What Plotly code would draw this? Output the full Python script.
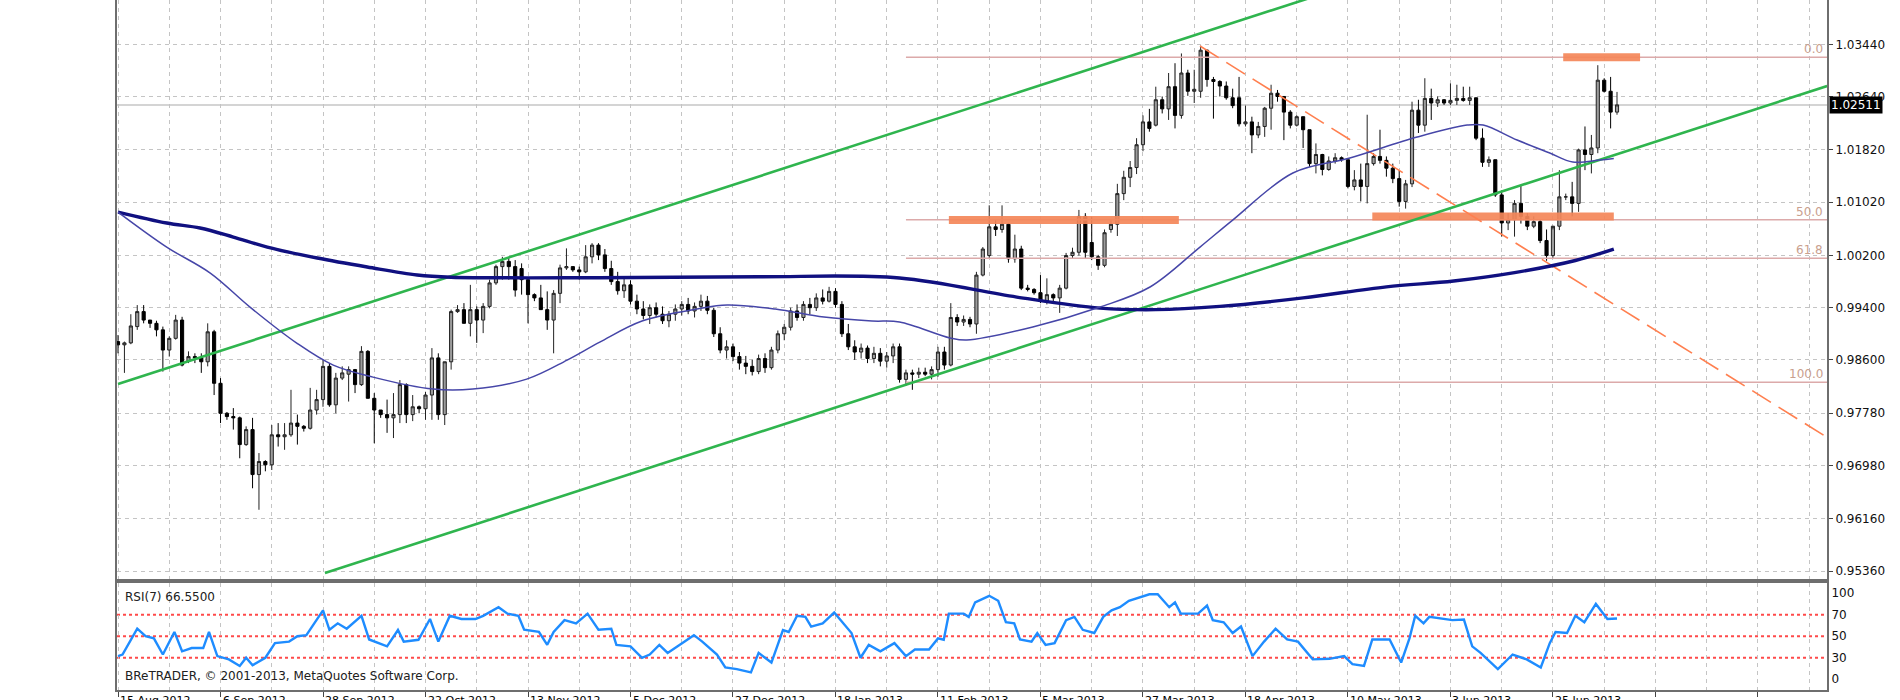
import plotly.graph_objects as go

# ---------------- data (prices in pips, /10000) ----------------
opens = [9888,9883,9886,9911,9934,9921,9916,9906,9875,9893,9921,9858,9865,9863,9857,9903,9824,9778,9773,9771,
         9730,9753,9684,9704,9699,9745,9742,9745,9763,9758,9755,9783,9799,9850,9791,9832,9838,9845,9822,9873,
         9801,9783,9776,9771,9776,9822,9776,9788,9785,9806,9863,9776,9857,9934,9937,9916,9937,9921,9942,9978,
         10003,10011,10003,10000,9983,9960,9955,9937,9921,9962,10001,10003,9998,9995,10018,10036,10021,10000,9980,9966,
         9975,9950,9938,9928,9940,9930,9920,9930,9938,9945,9935,9942,9950,9936,9900,9875,9880,9865,9855,9850,
         9842,9862,9848,9875,9900,9910,9935,9925,9945,9940,9955,9950,9965,9945,9900,9880,9872,9878,9862,9870,
         9858,9866,9880,9830,9840,9838,9841,9838,9845,9872,9852,9925,9918,9922,9915,9990,10020,10064,10060,10068,
         10015,10030,9970,9968,9963,9950,9960,9955,9970,10020,10025,10080,10040,10018,10005,10060,10068,10115,10140,10155,
         10190,10225,10220,10259,10245,10279,10235,10300,10272,10272,10335,10290,10287,10280,10262,10262,10222,10225,10205,10218,
         10246,10269,10264,10240,10220,10233,10213,10161,10175,10152,10165,10170,10167,10126,10136,10126,10161,10172,10166,10154,
         10138,10103,10130,10243,10220,10261,10254,10259,10254,10258,10261,10258,10262,10200,10163,10167,10113,10070,10075,10100,
         10080,10065,10072,10043,10020,10065,10110,10110,10100,10182,10175,10185,10289,10272,10240]
highs = [9898,9888,9930,9944,9944,9921,9920,9911,9896,9929,9926,9873,9870,9870,9916,9906,9832,9780,9786,9773,
         9758,9771,9717,9706,9760,9763,9763,9814,9776,9760,9817,9814,9860,9855,9840,9850,9850,9846,9881,9875,
         9809,9783,9799,9809,9829,9824,9806,9790,9811,9878,9870,9857,9937,9944,9947,9975,9942,9947,9983,10006,
         10018,10018,10013,10008,9983,9962,9975,9965,9967,10006,10031,10003,10003,10036,10039,10039,10030,10012,9995,9985,
         9982,9960,9950,9945,9948,9942,9935,9945,9950,9955,9948,9960,9958,9940,9910,9890,9885,9872,9866,9860,
         9868,9870,9880,9905,9915,9940,9945,9950,9955,9962,9968,9972,9970,9950,9915,9890,9885,9882,9880,9878,
         9872,9885,9885,9845,9845,9848,9848,9850,9880,9880,9947,9930,9928,9926,9995,10033,10097,10075,10097,10070,
         10052,10035,9975,9970,9990,9985,9962,9975,10024,10032,10090,10085,10079,10021,10060,10075,10130,10150,10165,10200,
         10235,10245,10279,10264,10300,10315,10330,10305,10305,10342,10336,10294,10289,10287,10276,10294,10250,10233,10225,10248,
         10282,10274,10264,10243,10235,10233,10213,10192,10176,10172,10177,10172,10167,10151,10161,10236,10177,10213,10172,10161,
         10151,10136,10256,10259,10292,10276,10264,10260,10284,10282,10279,10279,10262,10215,10172,10167,10120,10085,10105,10128,
         10085,10080,10075,10060,10060,10151,10115,10133,10184,10218,10205,10312,10292,10294,10271]
lows = [9870,9840,9884,9906,9916,9909,9896,9842,9865,9891,9850,9855,9855,9840,9850,9806,9763,9768,9753,9709,
        9728,9663,9630,9689,9691,9727,9722,9742,9730,9750,9753,9776,9788,9788,9778,9829,9796,9809,9820,9801,
        9732,9771,9748,9740,9763,9763,9766,9778,9768,9768,9768,9760,9845,9932,9916,9896,9886,9901,9939,9975,
        9983,9983,9957,9960,9916,9950,9937,9906,9870,9947,9998,9995,9983,9993,10008,10013,9995,9975,9960,9955,
        9945,9930,9922,9915,9925,9915,9910,9920,9928,9930,9925,9935,9930,9895,9870,9862,9858,9845,9838,9836,
        9838,9840,9845,9870,9890,9905,9920,9920,9930,9935,9945,9948,9940,9895,9875,9860,9862,9855,9855,9850,
        9848,9855,9825,9820,9814,9832,9835,9830,9834,9845,9850,9912,9912,9910,9900,9988,10015,10050,10055,10009,
        10009,9967,9965,9960,9947,9945,9950,9932,9968,10015,10020,10015,10013,9998,10002,10055,10050,10105,10125,10145,
        10180,10210,10218,10238,10228,10215,10230,10265,10254,10262,10279,10230,10264,10259,10246,10218,10218,10177,10200,10202,
        10213,10256,10197,10215,10218,10185,10156,10146,10143,10150,10161,10164,10123,10120,10103,10100,10158,10161,10141,10131,
        10095,10092,10125,10208,10210,10228,10248,10251,10251,10251,10256,10251,10197,10156,10156,10110,10049,10059,10049,10069,
        10059,10062,10039,10012,10016,10059,10105,10080,10087,10151,10146,10177,10270,10215,10236]
closes = [9883,9886,9912,9934,9921,9916,9906,9875,9893,9921,9852,9865,9863,9857,9903,9824,9778,9773,9771,9730,
          9753,9684,9704,9699,9745,9742,9745,9763,9758,9755,9783,9799,9850,9791,9832,9840,9845,9822,9873,9801,
          9783,9776,9771,9776,9822,9776,9788,9785,9806,9863,9776,9857,9934,9937,9916,9937,9921,9942,9978,10003,
          10011,10003,9967,9983,9960,9955,9937,9921,9962,10001,10003,9998,9995,10018,10036,10021,10000,9980,9966,9975,
          9950,9938,9928,9940,9930,9920,9930,9938,9945,9935,9942,9950,9936,9900,9875,9880,9865,9855,9850,9842,
          9862,9848,9875,9900,9910,9935,9925,9945,9940,9955,9950,9965,9945,9900,9880,9872,9878,9862,9870,9858,
          9866,9880,9830,9840,9838,9841,9838,9845,9872,9852,9925,9918,9922,9915,9990,10030,10064,10060,10068,10015,
          10030,9970,9968,9963,9950,9960,9955,9970,10020,10025,10080,10025,10018,10005,10055,10068,10115,10140,10155,10190,
          10225,10215,10259,10245,10279,10235,10300,10272,10275,10335,10290,10287,10280,10262,10250,10222,10225,10205,10218,10246,
          10269,10264,10240,10220,10233,10213,10161,10175,10152,10165,10170,10167,10126,10136,10126,10161,10172,10166,10154,10138,
          10103,10130,10243,10220,10261,10254,10259,10254,10258,10261,10258,10262,10200,10163,10167,10113,10070,10075,10100,10080,
          10065,10072,10043,10020,10065,10110,10110,10100,10182,10175,10185,10289,10272,10240,10251.1]

# moving averages (bar index, price)
ma_slow_bars = [0, 7.6, 12.8, 18, 23.3, 31.1, 38.9, 46.7, 52, 75, 100, 122, 140.3, 153.3, 162, 172, 185, 198, 208.5, 218, 227.5, 233.5]
ma_slow_vals = [1.00867, 1.00699, 1.00622, 1.00484, 1.0033, 1.00162, 1.00024, 0.99901, 0.99868, 0.9986, 0.99875, 0.99855,
                0.99563, 0.99394, 0.9937, 0.9942, 0.9955, 0.9972, 0.99809, 0.99938, 1.00124, 1.0030]
ma_fast_bars = [0, 7.6, 14.4, 20.6, 27.9, 33.6, 39.8, 49.2, 55.4, 63.8, 70.1, 75.2, 81.8, 90.4, 95.1, 102.6, 110.2, 117.7,
                122, 129.9, 132.5, 142.8, 153.3, 161.1, 168.9, 174, 183.4, 192.3, 202.8, 210.6, 213.1, 218.4, 223.5, 227.1, 231.3, 233.5]
ma_fast_vals = [1.00867, 1.0033, 0.99931, 0.99409, 0.98857, 0.98519, 0.98335, 0.98151, 0.98151, 0.98304, 0.98596, 0.98872,
                0.99196, 0.9938, 0.99441, 0.9938, 0.99257, 0.99196, 0.99181, 0.98936, 0.98905, 0.99104, 0.9941, 0.99717,
                1.0033, 1.00744, 1.01466, 1.01696, 1.02018, 1.02202, 1.02202, 1.01972, 1.01773, 1.01635, 1.01666, 1.0169]

# RSI(7)
rsi_bars = [0,0.7,3,4.3,5.6,7,8.8,10,11.5,13.3,14.2,15.5,17.3,19,20,21,23,24.5,26.7,28,29.4,32,33,34.3,35.7,38,39.2,42,43.7,44.6,
            46.9,48.7,50,51.8,53.6,55.8,57,59.4,60.8,62.5,63.4,65.7,67,68,69.7,71.5,73.3,75,77,77.8,80,81.8,83,84.5,85.8,87.6,
            89.9,91.2,93.5,94.8,96.6,98.8,100,102,103.8,104.7,106,107.3,108.2,110,111.8,114.5,115.9,117.2,119,121.2,123,124.4,
            126.6,128,128.9,129.7,132,132.8,133.8,136,137.4,138.6,139.9,140.8,142.6,143.5,144.8,146.2,148,149.3,150.6,152.4,
            153.8,155.1,156.4,157.8,159.6,161,162.3,164.1,165,165.9,168.6,170,170.9,172.6,174,175.3,177.1,178.9,180.7,182.5,
            184.2,186.5,189.1,191.4,192.7,194.5,195.8,198.5,200.3,201.6,202.5,203.8,204.7,207,208.3,210.1,211.4,212.7,215.4,
            217.7,219.9,222.1,223.5,224.4,226.2,227.5,228.9,230.7,232.5,234]
rsi_vals = [31.5,33,57,50,48,33,54,36,39,39,54,31.5,28.5,22.4,30,23,30,43.6,45,50,51,74,56,62,57,69,47,40.6,55.8,45,
            46.7,66,45,69,66,66,69,77,71,69,56,54,42,54,65,62,71,56,57,42,40.6,30,33,42,34.5,42,
            51,45,33,21,19.4,16.4,34.5,25.5,55.8,54,69,68,59,62,72,53,30,42,36,43.6,31.5,37.6,
            37.6,48,46.7,71,71,68,81.5,87.6,83,63,62,47,45,53,42,43.6,65,68,56,53,
            68,74,77,83,86,89,89,77,81.5,71,71,78.5,65,63,53,59,31.5,45,57,47,
            45,28.5,29,31.5,24,22.4,47,47,25.5,48,69,62,68,66,65,65.5,40.6,34.5,19.4,
            33,28.5,21,43.6,54,53,69,63,80,66,66.55]
rsi_levels = [70, 50, 30]

# channel / trend lines (bar, price anchors)
chan_up_bars = [0, 186.7]
chan_up_vals = [0.98229, 1.04172]
chan_lo_bars = [32.3, 266.8]
chan_lo_vals = [0.9533, 1.0280]
trend_bars = [168.9, 266.8]
trend_vals = [1.03414, 0.97410]

# Fibonacci retracement
fib_start_bar = 123
fib_end_bar = 266.8
fib_high = 1.03241
fib_low = 0.98255
fib_levels = [0.0, 50.0, 61.8, 100.0, 161.8]

# orange zones: (start bar, end bar, price)
zone_start = [129.7, 195.8, 225.6]
zone_end = [165.6, 233.5, 237.6]
zone_price = [1.00745, 1.00800, 1.03241]

price_ticks = [1.0344, 1.0264, 1.0182, 1.0102, 1.0020, 0.9940, 0.9860, 0.9778, 0.9698, 0.9616, 0.9536]
label_bars = [0, 16, 32, 48, 64, 80, 96, 112, 128, 144, 160, 176, 192, 208, 224]
label_dates = ["15 Aug 2012", "6 Sep 2012", "28 Sep 2012", "22 Oct 2012", "13 Nov 2012", "5 Dec 2012",
               "27 Dec 2012", "18 Jan 2013", "11 Feb 2013", "5 Mar 2013", "27 Mar 2013", "18 Apr 2013",
               "10 May 2013", "3 Jun 2013", "25 Jun 2013"]

# ---------------- figure ----------------
FONT = "DejaVu Sans"
GRID = "#c4c4c4"
BORDER = "#6e6e6e"
XR = [-0.16, 266.78]

bars_x = list(range(len(closes)))
fig = go.Figure()

# fib lines
for lv in fib_levels:
    p = fib_high - lv / 100.0 * (fib_high - fib_low)
    fig.add_trace(go.Scatter(x=[fib_start_bar, fib_end_bar], y=[p, p], mode="lines",
                             line=dict(color="#dcaaaa", width=1.5), hoverinfo="skip", xaxis="x", yaxis="y"))

# orange zones
for s, e, p in zip(zone_start, zone_end, zone_price):
    fig.add_trace(go.Scatter(x=[s, e], y=[p, p], mode="lines",
                             line=dict(color="#f5875a", width=8), opacity=0.92, hoverinfo="skip", xaxis="x", yaxis="y"))

# channel lines
fig.add_trace(go.Scatter(x=chan_up_bars, y=chan_up_vals, mode="lines",
                         line=dict(color="#2fb54e", width=2.6), hoverinfo="skip"))
fig.add_trace(go.Scatter(x=chan_lo_bars, y=chan_lo_vals, mode="lines",
                         line=dict(color="#2fb54e", width=2.6), hoverinfo="skip"))
# dashed downtrend
fig.add_trace(go.Scatter(x=trend_bars, y=trend_vals, mode="lines",
                         line=dict(color="#ff7f4f", width=1.6, dash="22px,9px"), hoverinfo="skip"))

# moving averages
fig.add_trace(go.Scatter(x=ma_slow_bars, y=ma_slow_vals, mode="lines", line_shape="spline",
                         line=dict(color="#101080", width=3.4), hoverinfo="skip"))
fig.add_trace(go.Scatter(x=ma_fast_bars, y=ma_fast_vals, mode="lines", line_shape="spline",
                         line=dict(color="#4646a8", width=1.5), hoverinfo="skip"))

# candles
fig.add_trace(go.Candlestick(
    x=bars_x,
    open=[v / 1e4 for v in opens], high=[v / 1e4 for v in highs],
    low=[v / 1e4 for v in lows], close=[v / 1e4 for v in closes],
    increasing=dict(line=dict(color="#222222", width=1), fillcolor="#9c9c9c"),
    decreasing=dict(line=dict(color="#000000", width=1), fillcolor="#000000"),
    whiskerwidth=0, hoverinfo="skip", xaxis="x", yaxis="y"))

# RSI
fig.add_trace(go.Scatter(x=rsi_bars, y=rsi_vals, mode="lines", line=dict(color="#1e8cff", width=2.4),
                         hoverinfo="skip", xaxis="x2", yaxis="y2"))

shapes = []
for lv in rsi_levels:
    shapes.append(dict(type="line", xref="x2 domain", x0=0, x1=1, yref="y2", y0=lv, y1=lv,
                       line=dict(color="#ff4a4a", width=2, dash="3px,3px"), layer="below"))
last_price = closes[-1] / 1e4
shapes.append(dict(type="line", xref="x domain", x0=0, x1=1, yref="y", y0=last_price, y1=last_price,
                   line=dict(color="#c6c6c6", width=1.5), layer="below"))

annotations = []
for lv in fib_levels:
    p = fib_high - lv / 100.0 * (fib_high - fib_low)
    annotations.append(dict(xref="x domain", x=1, xanchor="right", xshift=-3, yref="y", y=p, yanchor="bottom",
                            text=f"{lv:.1f}", showarrow=False, font=dict(family=FONT, size=12, color="#c9a08e"),
                            borderpad=0))
annotations.append(dict(xref="x domain", x=1, xanchor="left", xshift=2, yref="y", y=last_price, yanchor="middle",
                        text=f"{last_price:.5f}", showarrow=False, bgcolor="#000000",
                        font=dict(family=FONT, size=12, color="#ffffff"), borderpad=1))
annotations.append(dict(xref="x2 domain", x=0, xanchor="left", xshift=6, yref="y2 domain", y=0.87, yanchor="middle",
                        text=f"RSI(7) {rsi_vals[-1]:.4f}", showarrow=False, font=dict(family=FONT, size=12, color="#202020")))
annotations.append(dict(xref="x2 domain", x=0, xanchor="left", xshift=6, yref="y2 domain", y=0.13, yanchor="middle",
                        text="BReTRADER, © 2001-2013, MetaQuotes Software Corp.", showarrow=False,
                        font=dict(family=FONT, size=12, color="#202020")))
for b, d in zip(label_bars, label_dates):
    annotations.append(dict(xref="x2", x=b, xanchor="left", xshift=0, yref="paper", y=0, yanchor="top", yshift=-2,
                            text=d, showarrow=False, font=dict(family=FONT, size=11, color="#000000")))

fig.update_layout(
    width=1900, height=700, margin=dict(l=117, r=73, t=0, b=10),
    paper_bgcolor="white", plot_bgcolor="white", showlegend=False,
    font=dict(family=FONT, size=12, color="#1a1a1a"),
    xaxis=dict(domain=[0, 1], anchor="y", range=XR, showticklabels=False, ticks="",
               tickmode="linear", tick0=0, dtick=8, showgrid=True, gridcolor=GRID, griddash="4px,4px", gridwidth=1,
               zeroline=False, showline=True, linecolor=BORDER, linewidth=2, mirror=False,
               rangeslider=dict(visible=False)),
    yaxis=dict(domain=[0.16087, 1], anchor="x", range=[0.95238, 1.04120], side="right",
               tickmode="array", tickvals=price_ticks, tickformat=".5f", ticks="outside", ticklen=4,
               tickcolor="#444444", showgrid=True, gridcolor=GRID, griddash="4px,4px", gridwidth=1,
               zeroline=False, showline=True, linecolor=BORDER, linewidth=2, mirror=True,
               tickfont=dict(family=FONT, size=12, color="#111111")),
    xaxis2=dict(domain=[0, 1], anchor="y2", range=XR, showticklabels=False,
                tickmode="linear", tick0=0, dtick=16, ticks="outside", ticklen=5, tickcolor="#444444",
                showgrid=True, gridcolor=GRID, griddash="4px,4px", gridwidth=1,
                minor=dict(tick0=0, dtick=8, showgrid=True, gridcolor=GRID, griddash="4px,4px", ticks=""),
                zeroline=False, showline=True, linecolor=BORDER, linewidth=2, mirror=True),
    yaxis2=dict(domain=[0, 0.15507], anchor="x2", range=[0, 99.5], side="right",
                tickmode="array", tickvals=[90, 70, 50, 30, 10], ticktext=["100", "70", "50", "30", "0"],
                ticks="", showgrid=False, zeroline=False, showline=True, linecolor=BORDER, linewidth=2, mirror=True,
                tickfont=dict(family=FONT, size=12, color="#111111")),
    shapes=shapes, annotations=annotations,
)

fig.write_html("out.html")
